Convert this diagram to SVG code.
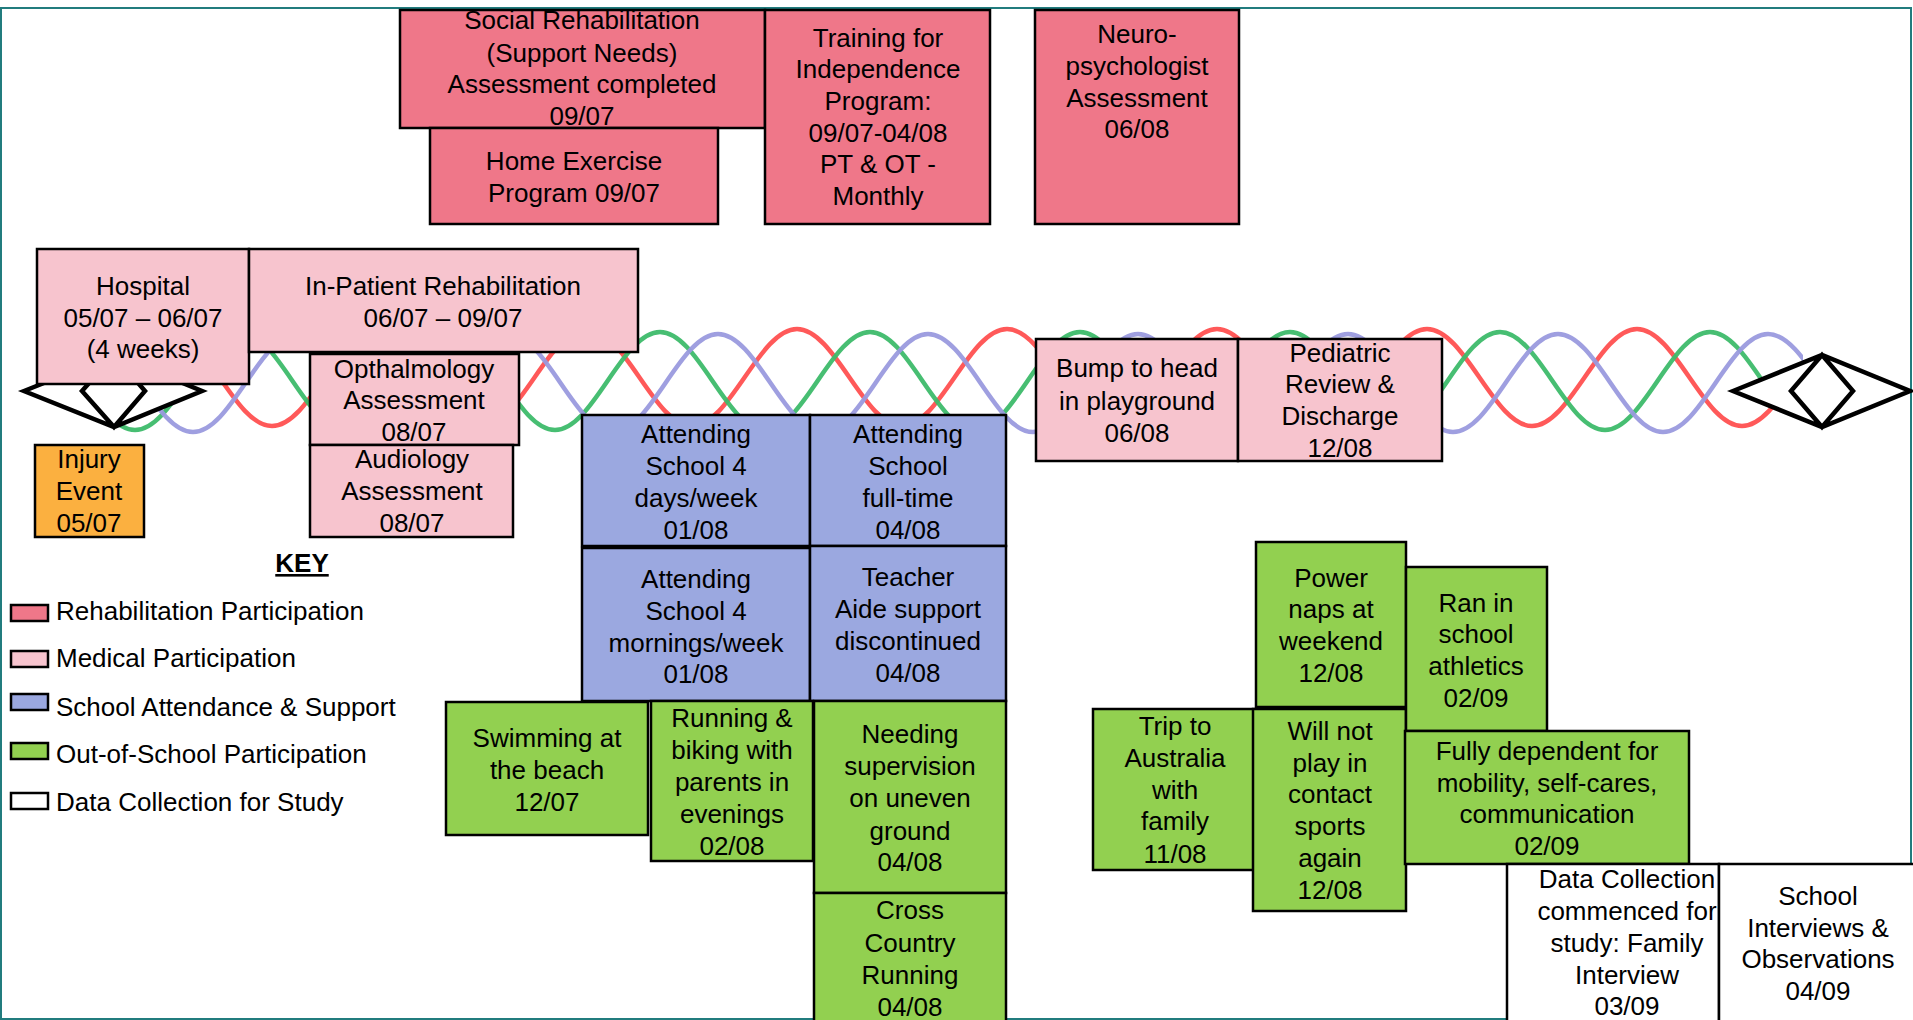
<svg xmlns="http://www.w3.org/2000/svg" width="1913" height="1020" viewBox="0 0 1913 1020">
<style>
.box{stroke:#000;stroke-width:2.5}
.rehab{fill:#EF7789}
.med{fill:#F7C4CE}
.school{fill:#9BA8E0}
.out{fill:#92D050}
.data{fill:#FFFFFF}
.inj{fill:#FBB040}
text{font-family:"Liberation Sans",Arial,sans-serif;font-size:26px;fill:#000}
.c{text-anchor:middle}
.wave{fill:none;stroke-width:4.5;stroke-linecap:round}
.end{fill:#fff;stroke:#000;stroke-width:4.5;stroke-linejoin:miter}
</style>
<defs>
<clipPath id="cg"><rect x="100" y="0" width="1670" height="1020"/></clipPath>
<clipPath id="cr"><rect x="100" y="0" width="1680" height="1020"/></clipPath>
<clipPath id="cb"><rect x="100" y="0" width="1703" height="1020"/></clipPath>
</defs>
<rect x="0" y="0" width="1913" height="1020" fill="#fff"/>
<rect x="1" y="8" width="1910" height="1011" fill="none" stroke="#217C7E" stroke-width="2"/>

<g id="connectors">
<path class="wave" clip-path="url(#cr)" stroke="#FF5050" stroke-opacity="0.95" d="M-43,329 c38,0 67,97 105,97 s67,-97 105,-97 s67,97 105,97 s67,-97 105,-97 s67,97 105,97 s67,-97 105,-97 s67,97 105,97 s67,-97 105,-97 s67,97 105,97 s67,-97 105,-97 s67,97 105,97 s67,-97 105,-97 s67,97 105,97 s67,-97 105,-97 s67,97 105,97 s67,-97 105,-97 s67,97 105,97 s67,-97 105,-97"/>
<path class="wave" clip-path="url(#cg)" stroke="#3DBB6A" stroke-opacity="0.95" d="M30,332 c38,0 67,98 105,98 s67,-98 105,-98 s67,98 105,98 s67,-98 105,-98 s67,98 105,98 s67,-98 105,-98 s67,98 105,98 s67,-98 105,-98 s67,98 105,98 s67,-98 105,-98 s67,98 105,98 s67,-98 105,-98 s67,98 105,98 s67,-98 105,-98 s67,98 105,98 s67,-98 105,-98 s67,98 105,98"/>
<path class="wave" clip-path="url(#cb)" stroke="#9A9ADE" stroke-opacity="0.95" d="M88,334 c38,0 67,98 105,98 s67,-98 105,-98 s67,98 105,98 s67,-98 105,-98 s67,98 105,98 s67,-98 105,-98 s67,98 105,98 s67,-98 105,-98 s67,98 105,98 s67,-98 105,-98 s67,98 105,98 s67,-98 105,-98 s67,98 105,98 s67,-98 105,-98 s67,98 105,98 s67,-98 105,-98 s67,98 105,98"/>
</g>

<g id="start-marker">
<path class="end" d="M24,391 L114,355 L202,391 L114,427 Z M82,391 L114,355 L145,391 L114,427 Z"/>
</g>
<g id="end-marker">
<path class="end" d="M1733,391 L1822,355 L1910,391 L1822,427 Z M1791,391 L1822,355 L1853,391 L1822,427 Z"/>
</g>

<g id="social-rehab">
<rect class="box rehab" x="400" y="10" width="365" height="118"/>
<text class="c"><tspan x="582" y="29">Social Rehabilitation</tspan><tspan x="582" y="62">(Support Needs)</tspan><tspan x="582" y="93">Assessment completed</tspan><tspan x="582" y="125">09/07</tspan></text>
</g>
<g id="home-exercise">
<rect class="box rehab" x="430" y="128" width="288" height="96"/>
<text class="c"><tspan x="574" y="170">Home Exercise</tspan><tspan x="574" y="202">Program 09/07</tspan></text>
</g>
<g id="training">
<rect class="box rehab" x="765" y="10" width="225" height="214"/>
<text class="c"><tspan x="878" y="47">Training for</tspan><tspan x="878" y="78">Independence</tspan><tspan x="878" y="110">Program:</tspan><tspan x="878" y="142">09/07-04/08</tspan><tspan x="878" y="173">PT &amp; OT -</tspan><tspan x="878" y="205">Monthly</tspan></text>
</g>
<g id="neuro">
<rect class="box rehab" x="1035" y="10" width="204" height="214"/>
<text class="c"><tspan x="1137" y="43">Neuro-</tspan><tspan x="1137" y="75">psychologist</tspan><tspan x="1137" y="107">Assessment</tspan><tspan x="1137" y="138">06/08</tspan></text>
</g>

<g id="hospital">
<rect class="box med" x="37" y="249" width="212" height="135"/>
<text class="c"><tspan x="143" y="295">Hospital</tspan><tspan x="143" y="327">05/07 – 06/07</tspan><tspan x="143" y="358">(4 weeks)</tspan></text>
</g>
<g id="inpatient">
<rect class="box med" x="249" y="249" width="389" height="103"/>
<text class="c"><tspan x="443" y="295">In-Patient Rehabilitation</tspan><tspan x="443" y="327">06/07 – 09/07</tspan></text>
</g>
<g id="opthalmology">
<rect class="box med" x="310" y="354" width="209" height="91"/>
<text class="c"><tspan x="414" y="378">Opthalmology</tspan><tspan x="414" y="409">Assessment</tspan><tspan x="414" y="441">08/07</tspan></text>
</g>
<g id="audiology">
<rect class="box med" x="310" y="445" width="203" height="92"/>
<text class="c"><tspan x="412" y="468">Audiology</tspan><tspan x="412" y="500">Assessment</tspan><tspan x="412" y="532">08/07</tspan></text>
</g>
<g id="injury">
<rect class="box inj" x="35" y="445" width="109" height="92"/>
<text class="c"><tspan x="89" y="468">Injury</tspan><tspan x="89" y="500">Event</tspan><tspan x="89" y="532">05/07</tspan></text>
</g>
<g id="bump">
<rect class="box med" x="1036" y="339" width="202" height="122"/>
<text class="c"><tspan x="1137" y="377">Bump to head</tspan><tspan x="1137" y="410">in playground</tspan><tspan x="1137" y="442">06/08</tspan></text>
</g>
<g id="pediatric">
<rect class="box med" x="1238" y="339" width="204" height="122"/>
<text class="c"><tspan x="1340" y="362">Pediatric</tspan><tspan x="1340" y="393">Review &amp;</tspan><tspan x="1340" y="425">Discharge</tspan><tspan x="1340" y="457">12/08</tspan></text>
</g>

<g id="school-4days">
<rect class="box school" x="582" y="415" width="228" height="131"/>
<text class="c"><tspan x="696" y="443">Attending</tspan><tspan x="696" y="475">School 4</tspan><tspan x="696" y="507">days/week</tspan><tspan x="696" y="539">01/08</tspan></text>
</g>
<g id="school-fulltime">
<rect class="box school" x="810" y="415" width="196" height="131"/>
<text class="c"><tspan x="908" y="443">Attending</tspan><tspan x="908" y="475">School</tspan><tspan x="908" y="507">full-time</tspan><tspan x="908" y="539">04/08</tspan></text>
</g>
<g id="school-mornings">
<rect class="box school" x="582" y="548" width="228" height="153"/>
<text class="c"><tspan x="696" y="588">Attending</tspan><tspan x="696" y="620">School 4</tspan><tspan x="696" y="652">mornings/week</tspan><tspan x="696" y="683">01/08</tspan></text>
</g>
<g id="teacher-aide">
<rect class="box school" x="810" y="546" width="196" height="155"/>
<text class="c"><tspan x="908" y="586">Teacher</tspan><tspan x="908" y="618">Aide support</tspan><tspan x="908" y="650">discontinued</tspan><tspan x="908" y="682">04/08</tspan></text>
</g>

<g id="swimming">
<rect class="box out" x="446" y="702" width="202" height="133"/>
<text class="c"><tspan x="547" y="747">Swimming at</tspan><tspan x="547" y="779">the beach</tspan><tspan x="547" y="811">12/07</tspan></text>
</g>
<g id="running">
<rect class="box out" x="651" y="701" width="162" height="160"/>
<text class="c"><tspan x="732" y="727">Running &amp;</tspan><tspan x="732" y="759">biking with</tspan><tspan x="732" y="791">parents in</tspan><tspan x="732" y="823">evenings</tspan><tspan x="732" y="855">02/08</tspan></text>
</g>
<g id="needing">
<rect class="box out" x="814" y="701" width="192" height="192"/>
<text class="c"><tspan x="910" y="743">Needing</tspan><tspan x="910" y="775">supervision</tspan><tspan x="910" y="807">on uneven</tspan><tspan x="910" y="840">ground</tspan><tspan x="910" y="871">04/08</tspan></text>
</g>
<g id="cross-country">
<rect class="box out" x="814" y="893" width="192" height="140"/>
<text class="c"><tspan x="910" y="919">Cross</tspan><tspan x="910" y="952">Country</tspan><tspan x="910" y="984">Running</tspan><tspan x="910" y="1016">04/08</tspan></text>
</g>
<g id="trip">
<rect class="box out" x="1093" y="709" width="164" height="161"/>
<text class="c"><tspan x="1175" y="735">Trip to</tspan><tspan x="1175" y="767">Australia</tspan><tspan x="1175" y="799">with</tspan><tspan x="1175" y="830">family</tspan><tspan x="1175" y="863">11/08</tspan></text>
</g>
<g id="power-naps">
<rect class="box out" x="1256" y="542" width="150" height="165"/>
<text class="c"><tspan x="1331" y="587">Power</tspan><tspan x="1331" y="618">naps at</tspan><tspan x="1331" y="650">weekend</tspan><tspan x="1331" y="682">12/08</tspan></text>
</g>
<g id="will-not-play">
<rect class="box out" x="1253" y="709" width="153" height="202"/>
<text class="c"><tspan x="1330" y="740">Will not</tspan><tspan x="1330" y="772">play in</tspan><tspan x="1330" y="803">contact</tspan><tspan x="1330" y="835">sports</tspan><tspan x="1330" y="867">again</tspan><tspan x="1330" y="899">12/08</tspan></text>
</g>
<g id="ran-athletics">
<rect class="box out" x="1406" y="567" width="141" height="164"/>
<text class="c"><tspan x="1476" y="612">Ran in</tspan><tspan x="1476" y="643">school</tspan><tspan x="1476" y="675">athletics</tspan><tspan x="1476" y="707">02/09</tspan></text>
</g>
<g id="fully-dependent">
<rect class="box out" x="1405" y="731" width="284" height="133"/>
<text class="c"><tspan x="1547" y="760">Fully dependent for</tspan><tspan x="1547" y="792">mobility, self-cares,</tspan><tspan x="1547" y="823">communication</tspan><tspan x="1547" y="855">02/09</tspan></text>
</g>

<g id="data-collection">
<rect class="box data" x="1507" y="864" width="212" height="170"/>
<text class="c"><tspan x="1627" y="888">Data Collection</tspan><tspan x="1627" y="920">commenced for</tspan><tspan x="1627" y="952">study: Family</tspan><tspan x="1627" y="984">Interview</tspan><tspan x="1627" y="1015">03/09</tspan></text>
</g>
<g id="school-interviews">
<rect class="box data" x="1719" y="864" width="200" height="170"/>
<text class="c"><tspan x="1818" y="905">School</tspan><tspan x="1818" y="937">Interviews &amp;</tspan><tspan x="1818" y="968">Observations</tspan><tspan x="1818" y="1000">04/09</tspan></text>
</g>

<g id="key">
<text class="c" x="302" y="572" font-weight="bold" text-decoration="underline">KEY</text>
<rect class="box rehab" x="11" y="605" width="37" height="16"/>
<text x="56" y="620">Rehabilitation Participation</text>
<rect class="box med" x="11" y="651" width="37" height="16"/>
<text x="56" y="667">Medical Participation</text>
<rect class="box school" x="11" y="694" width="37" height="16"/>
<text x="56" y="716">School Attendance &amp; Support</text>
<rect class="box out" x="11" y="743" width="37" height="16"/>
<text x="56" y="763">Out-of-School Participation</text>
<rect class="box data" x="11" y="793" width="37" height="16"/>
<text x="56" y="811">Data Collection for Study</text>
</g>
</svg>
